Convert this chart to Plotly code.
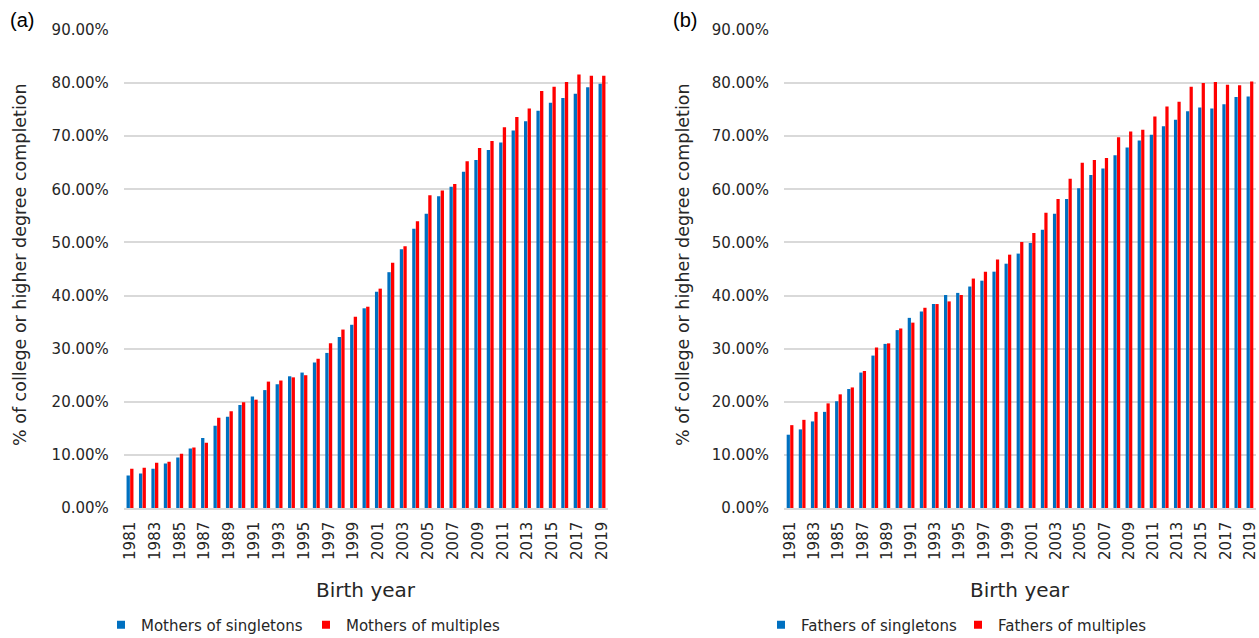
import plotly.graph_objects as go

W, H = 1259, 638

years = list(range(1981, 2020))
tick_years = list(range(1981, 2020, 2))

mothers_singletons = [6.1, 6.5, 7.4, 8.4, 9.5, 11.2, 13.2, 15.5, 17.2, 19.4,
                      21.0, 22.2, 23.3, 24.8, 25.5, 27.4, 29.2, 32.2, 34.5, 37.6,
                      40.7, 44.4, 48.7, 52.6, 55.4, 58.7, 60.5, 63.3, 65.5, 67.4,
                      68.8, 71.1, 72.8, 74.8, 76.3, 77.2, 78.0, 79.2, 79.9]
mothers_multiples = [7.4, 7.6, 8.5, 8.7, 10.2, 11.4, 12.3, 17.0, 18.2, 19.9,
                     20.4, 23.8, 24.0, 24.6, 25.0, 28.1, 31.0, 33.6, 36.0, 37.9,
                     41.3, 46.2, 49.3, 54.0, 58.9, 59.8, 61.0, 65.3, 67.8, 69.1,
                     71.7, 73.6, 75.2, 78.5, 79.3, 80.2, 81.6, 81.4, 81.4]
fathers_singletons = [13.8, 14.8, 16.3, 18.1, 20.1, 22.4, 25.5, 28.7, 30.9, 33.5,
                      35.8, 37.0, 38.4, 40.1, 40.5, 41.7, 42.8, 44.5, 46.0, 47.9,
                      49.9, 52.4, 55.4, 58.2, 60.2, 62.7, 63.9, 66.4, 67.9, 69.2,
                      70.3, 71.9, 73.1, 74.7, 75.4, 75.2, 76.0, 77.4, 77.5]
fathers_multiples = [15.6, 16.6, 18.1, 19.7, 21.4, 22.7, 25.8, 30.2, 31.0, 33.8,
                     34.9, 37.7, 38.4, 38.9, 40.1, 43.2, 44.5, 46.8, 47.7, 50.1,
                     51.8, 55.6, 58.2, 62.0, 65.0, 65.5, 65.9, 69.8, 70.9, 71.2,
                     73.7, 75.6, 76.5, 79.3, 80.0, 80.2, 79.7, 79.6, 80.3]

y_ticks = [0, 10, 20, 30, 40, 50, 60, 70, 80, 90]

BLUE = "#0070C0"
RED = "#FF0000"
GRID = "#D9D9D9"
TXT = "#262626"
FONT = "DejaVu Sans, sans-serif"

def px_x(v):
    return v / W

def px_y(v):
    return 1 - v / H

fig = go.Figure()

series = [
    (mothers_singletons, "Mothers of singletons", BLUE, "x", "y", "legend"),
    (mothers_multiples, "Mothers of multiples", RED, "x", "y", "legend"),
    (fathers_singletons, "Fathers of singletons", BLUE, "x2", "y2", "legend2"),
    (fathers_multiples, "Fathers of multiples", RED, "x2", "y2", "legend2"),
]
for vals, name, col, xa, ya, lg in series:
    fig.add_trace(go.Bar(x=years, y=vals, name=name, marker_color=col,
                         marker_line_width=0, xaxis=xa, yaxis=ya, showlegend=False))
    # legend entry with a small square swatch
    fig.add_trace(go.Scatter(x=[None], y=[None], mode="markers", name=name,
                             marker=dict(symbol="square", size=8, color=col),
                             xaxis=xa, yaxis=ya, legend=lg, hoverinfo="skip"))

xdom_a = [px_x(123.8), px_x(608.2)]
xdom_b = [px_x(784), px_x(1256)]
ydom = [px_y(508), px_y(30)]

xaxis_common = dict(
    range=[1980.5, 2019.5], tickmode="array", tickvals=tick_years,
    ticktext=[str(y) for y in tick_years], tickangle=-90,
    tickfont=dict(family=FONT, size=15, color=TXT),
    showgrid=False, showline=True, linecolor=GRID, linewidth=1.5,
    ticks="", ticklabelstandoff=6, zeroline=False, automargin=False,
)
yaxis_common = dict(
    range=[0, 90], tickmode="array", tickvals=y_ticks,
    ticktext=[f"{v:.2f}%" for v in y_ticks],
    tickfont=dict(family=FONT, size=15, color=TXT),
    showgrid=True, gridcolor=GRID, gridwidth=1.5, zeroline=False,
    showline=False, ticks="", ticklabelstandoff=14, automargin=False,
)

legend_common = dict(orientation="h", xanchor="left", yanchor="middle",
                     font=dict(family=FONT, size=15, color=TXT), itemwidth=30,
                     bgcolor="rgba(0,0,0,0)", tracegroupgap=0)

fig.update_layout(
    template="none",
    width=W, height=H,
    margin=dict(l=0, r=0, t=0, b=0, autoexpand=False),
    paper_bgcolor="white", plot_bgcolor="white",
    barmode="group", bargap=0.42, bargroupgap=0.08,
    xaxis=dict(domain=xdom_a, anchor="y", **xaxis_common),
    yaxis=dict(domain=ydom, anchor="x", **yaxis_common),
    xaxis2=dict(domain=xdom_b, anchor="y2", **xaxis_common),
    yaxis2=dict(domain=ydom, anchor="x2", **yaxis_common),
    legend=dict(x=px_x(101), y=px_y(625), entrywidth=160, **legend_common),
    legend2=dict(x=px_x(761), y=px_y(625), entrywidth=152, **legend_common),
    font=dict(family=FONT, color=TXT),
)

annotations = [
    dict(text="(a)", x=px_x(8), y=px_y(20), xanchor="left", yanchor="middle",
         font=dict(family="Liberation Sans, Arial", size=20, color="black")),
    dict(text="(b)", x=px_x(671), y=px_y(20), xanchor="left", yanchor="middle",
         font=dict(family="Liberation Sans, Arial", size=20, color="black")),
    dict(text="% of college or higher degree completion", x=px_x(20), y=px_y(265),
         textangle=-90, xanchor="center", yanchor="middle",
         font=dict(family=FONT, size=17.5, color=TXT)),
    dict(text="% of college or higher degree completion", x=px_x(683), y=px_y(265),
         textangle=-90, xanchor="center", yanchor="middle",
         font=dict(family=FONT, size=17.5, color=TXT)),
    dict(text="Birth year", x=px_x(366), y=px_y(590), xanchor="center", yanchor="middle",
         font=dict(family=FONT, size=20, color=TXT)),
    dict(text="Birth year", x=px_x(1020), y=px_y(590), xanchor="center", yanchor="middle",
         font=dict(family=FONT, size=20, color=TXT)),
]
for a in annotations:
    a.update(xref="paper", yref="paper", showarrow=False)
fig.update_layout(annotations=annotations)

fig.write_html("out.html", config={"displayModeBar": False},
               post_script="document.body.style.margin='0';document.body.style.overflow='hidden';")
